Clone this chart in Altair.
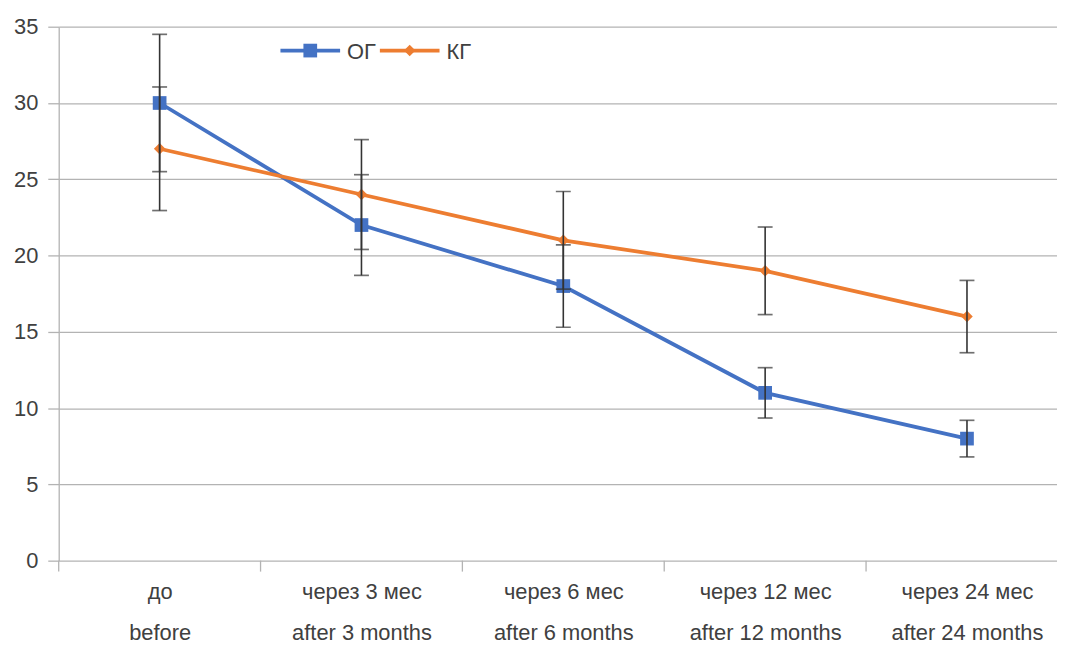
import altair as alt
import pandas as pd

categories_ru = ["до", "через 3 мес", "через 6 мес", "через 12 мес", "через 24 мес"]
categories_en = ["before", "after 3 months", "after 6 months", "after 12 months", "after 24 months"]
series_names = ["ОГ", "КГ"]
og_values = [30, 22, 18, 11, 8]
og_errors = [4.5, 3.3, 2.7, 1.65, 1.2]
kg_values = [27, 24, 21, 19, 16]
kg_errors = [4.05, 3.6, 3.2, 2.87, 2.37]

colors = ["#4472C4", "#ED7D31"]
shapes = ["square", "diamond"]
sizes = [190, 135]
FONT = "Liberation Sans"
FS = 22
TXT = "#404040"
GRID = "#b3b3b3"
ERR = "#333333"

rows = []
for name, vals, errs in [("ОГ", og_values, og_errors), ("КГ", kg_values, kg_errors)]:
    for i, (v, e) in enumerate(zip(vals, errs)):
        rows.append({"idx": i, "series": name, "value": v, "lo": v - e, "hi": v + e})
df = pd.DataFrame(rows)

bounds = pd.DataFrame({"b": [i - 0.5 for i in range(len(categories_ru))]})

ru_js = "[" + ",".join("'" + s + "'" for s in categories_ru) + "]"
en_js = "[" + ",".join("'" + s + "'" for s in categories_en) + "]"
label_expr = f"[{ru_js}[datum.value], {en_js}[datum.value]]"

x_scale = alt.Scale(domain=[-0.5, 4.446], nice=False, zero=False)
y_scale = alt.Scale(domain=[0, 35], nice=False)

x_enc = alt.X(
    "idx:Q",
    scale=x_scale,
    axis=alt.Axis(
        values=list(range(len(categories_ru))),
        labelExpr=label_expr,
        title=None,
        grid=False,
        ticks=False,
        domain=False,
        labelFont=FONT,
        labelFontSize=FS,
        labelColor=TXT,
        labelLineHeight=41,
        labelPadding=21,
    ),
)
y_enc = alt.Y(
    "value:Q",
    scale=y_scale,
    axis=alt.Axis(
        values=list(range(0, 36, 5)),
        title=None,
        grid=True,
        gridColor=GRID,
        gridWidth=1.3,
        domainColor=GRID,
        domainWidth=1.3,
        tickColor=GRID,
        tickSize=11,
        tickWidth=1.3,
        labelFont=FONT,
        labelFontSize=FS,
        labelColor=TXT,
        labelPadding=10,
    ),
)

color_enc = alt.Color("series:N", scale=alt.Scale(domain=series_names, range=colors), legend=None)

base = alt.Chart(df)

lines = base.mark_line(strokeWidth=3.8).encode(x=x_enc, y=y_enc, color=color_enc, detail="series:N")

points = base.mark_point(filled=True, opacity=1).encode(
    x="idx:Q",
    y="value:Q",
    color=color_enc,
    shape=alt.Shape("series:N", scale=alt.Scale(domain=series_names, range=shapes), legend=None),
    size=alt.Size("series:N", scale=alt.Scale(domain=series_names, range=sizes), legend=None),
)

err_rules = base.mark_rule(color=ERR, strokeWidth=1.6).encode(
    x="idx:Q", y="lo:Q", y2="hi:Q"
)

caps = base.transform_fold(["lo", "hi"], as_=["cap", "capval"]).mark_tick(
    orient="horizontal", size=15, thickness=1.7, color=ERR
).encode(x="idx:Q", y="capval:Q")

bticks = alt.Chart(bounds).mark_rule(color=GRID, strokeWidth=1.3).encode(
    x="b:Q", y=alt.value(537), y2=alt.value(548)
)

# manual legend (layout positions in pixels, relative to plot area)
legend_layers = []
leg_x0 = [223, 323]
leg_y = 24
for k, name in enumerate(series_names):
    ldf = pd.DataFrame({"series": [name]})
    lb = alt.Chart(ldf)
    legend_layers.append(
        lb.mark_rule(color=colors[k], strokeWidth=3.8).encode(
            x=alt.value(leg_x0[k]), x2=alt.value(leg_x0[k] + 60), y=alt.value(leg_y)
        )
    )
    legend_layers.append(
        lb.mark_point(filled=True, opacity=1, color=colors[k], shape=shapes[k], size=sizes[k]).encode(
            x=alt.value(leg_x0[k] + 30), y=alt.value(leg_y)
        )
    )
    legend_layers.append(
        lb.mark_text(
            align="left", baseline="middle", font=FONT, fontSize=FS, color=TXT
        ).encode(x=alt.value(leg_x0[k] + 67), y=alt.value(leg_y + 1), text="series:N")
    )

chart = (
    alt.layer(bticks, lines, points, err_rules, caps, *legend_layers)
    .properties(
        width=1004,
        height=537,
        autosize="none",
        padding={"left": 51, "top": 17, "right": 0, "bottom": 83},
    )
    .configure_view(stroke=None)
)

chart.save("out.html", embed_options={"renderer": "svg", "actions": False})
